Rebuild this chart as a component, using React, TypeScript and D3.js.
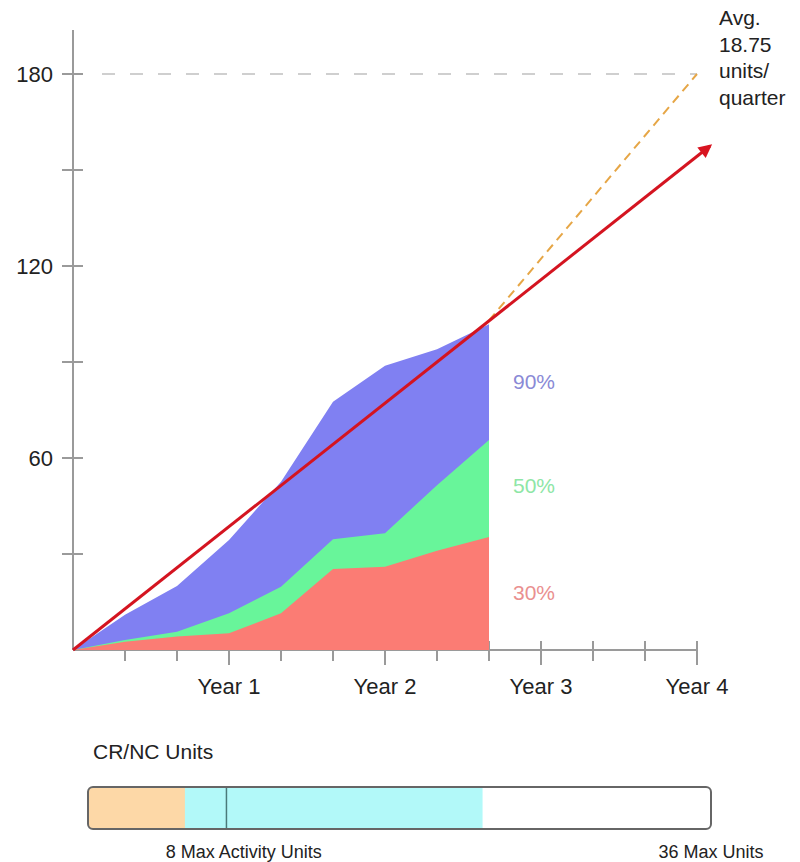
import React from "react";
import * as d3 from "d3";

// periods (x), three per year
const periods = [0, 1, 2, 3, 4, 5, 6, 7, 8];
const p90 = [0, 11, 20, 34.4, 52.6, 77.6, 88.8, 94, 101.8];
const p50 = [0, 3.1, 5.7, 11.5, 19.8, 34.6, 36.5, 51.5, 65.6];
const p30 = [0, 2.6, 4.2, 5.2, 11.5, 25.3, 26, 31, 35.3];
const trendLine = [
  [0, 0],
  [12.25, 157.5],
];
const avgLine = [
  [8, 103],
  [12, 180],
];
const target = 180;
const yTicks = [30, 60, 90, 120, 150, 180];
const yLabels = [60, 120, 180];
const xTicks = [1, 2, 3, 4, 5, 6, 7, 8, 9, 10, 11, 12];
const yearTicks = [3, 6, 9, 12];
const yearLabels = ["Year 1", "Year 2", "Year 3", "Year 4"];
const pctLabels = [
  { text: "90%", v: 84 },
  { text: "50%", v: 51.5 },
  { text: "30%", v: 18 },
];
const avgText = ["Avg.", "18.75", "units/", "quarter"];
// CR/NC unit bar
const unitMax = 36;
const orangeUnits = 5.6;
const cyanUnits = 22.8;
const activityMark = 8;

const FONT = "'Liberation Sans', Arial, Helvetica, sans-serif";

export default function App() {
  const x = d3.scaleLinear().domain([0, 12]).range([73, 697]);
  const y = d3.scaleLinear().domain([0, 180]).range([650, 74]);
  const xb = d3.scaleLinear().domain([0, unitMax]).range([88, 711]);

  const area = (vals: number[]) =>
    d3
      .area<number>()
      .x((_, i) => x(periods[i]))
      .y0(y(0))
      .y1((d) => y(d))(vals) as string;

  const line = d3
    .line<number[]>()
    .x((d) => x(d[0]))
    .y((d) => y(d[1]));

  const axisColor = "#9a9a9a";
  const barY = 787;
  const barH = 42;

  return (
    <svg
      width={800}
      height={862}
      style={{ position: "absolute", left: 0, top: 0, background: "#fff" }}
      fontFamily={FONT}
    >
      <defs>
        <marker
          id="arrow"
          viewBox="0 0 10 10"
          refX="8"
          refY="5"
          markerWidth="5"
          markerHeight="4.5"
          orient="auto"
          markerUnits="strokeWidth"
        >
          <path d="M0,0 L10,5 L0,10 Z" fill="#d81420" />
        </marker>
        <clipPath id="barClip">
          <rect x={xb(0)} y={barY} width={xb(unitMax) - xb(0)} height={barH} rx={5} />
        </clipPath>
      </defs>

      {/* y axis */}
      <line x1={x(0)} x2={x(0)} y1={30} y2={y(0)} stroke={axisColor} strokeWidth={2} />
      {yTicks.map((t) => (
        <line key={t} x1={x(0) - 11} x2={x(0) + 10} y1={y(t)} y2={y(t)} stroke={axisColor} strokeWidth={2} />
      ))}
      {yLabels.map((t) => (
        <text key={t} x={53} y={y(t)} dy="0.36em" textAnchor="end" fontSize={22} fill="#222">
          {t}
        </text>
      ))}

      {/* x axis */}
      <line x1={x(0)} x2={x(12)} y1={y(0)} y2={y(0)} stroke={axisColor} strokeWidth={2} />
      {xTicks.map((t) => {
        const major = yearTicks.includes(t);
        return (
          <line
            key={t}
            x1={x(t)}
            x2={x(t)}
            y1={y(0) - 9}
            y2={y(0) + (major ? 15 : 11)}
            stroke={axisColor}
            strokeWidth={2}
          />
        );
      })}
      {yearTicks.map((t, i) => (
        <text key={t} x={x(t)} y={694} textAnchor="middle" fontSize={22} fill="#222">
          {yearLabels[i]}
        </text>
      ))}

      {/* areas */}
      <path d={area(p90)} fill="#8080f2" />
      <path d={area(p50)} fill="#68f59a" />
      <path d={area(p30)} fill="#fb7c74" />

      {/* target line */}
      <line
        x1={x(0) + 29}
        x2={x(12)}
        y1={y(target)}
        y2={y(target)}
        stroke="#cfcfcf"
        strokeWidth={2}
        strokeDasharray="13,15"
      />

      {/* average projection */}
      <path d={line(avgLine) as string} fill="none" stroke="#e6a646" strokeWidth={2} strokeDasharray="9,6" />

      {/* trend line */}
      <path
        d={line(trendLine) as string}
        fill="none"
        stroke="#d41420"
        strokeWidth={3}
        markerEnd="url(#arrow)"
      />

      {/* percent labels */}
      {pctLabels.map((p, i) => (
        <text
          key={p.text}
          x={513}
          y={y(p.v)}
          dy="0.36em"
          fontSize={21}
          fill={["#8a8ad6", "#8ee6a6", "#ea9090"][i]}
        >
          {p.text}
        </text>
      ))}

      {/* avg label */}
      {avgText.map((t, i) => (
        <text key={t} x={719} y={25 + i * 26.5} fontSize={21} fill="#222">
          {t}
        </text>
      ))}

      {/* unit bar */}
      <text x={93} y={759} fontSize={21} fill="#222">
        CR/NC Units
      </text>
      <g clipPath="url(#barClip)">
        <rect x={xb(0)} y={barY} width={xb(unitMax) - xb(0)} height={barH} fill="#fff" />
        <rect x={xb(0)} y={barY} width={xb(cyanUnits) - xb(0)} height={barH} fill="#b2f9f9" />
        <rect x={xb(0)} y={barY} width={xb(orangeUnits) - xb(0)} height={barH} fill="#fdd8a7" />
      </g>
      <line
        x1={xb(activityMark)}
        x2={xb(activityMark)}
        y1={barY}
        y2={barY + barH}
        stroke="#4a7a7a"
        strokeWidth={1.5}
      />
      <rect
        x={xb(0)}
        y={barY}
        width={xb(unitMax) - xb(0)}
        height={barH}
        rx={5}
        fill="none"
        stroke="#666"
        strokeWidth={2}
      />
      <text x={xb(activityMark + 1)} y={858} textAnchor="middle" fontSize={18} fill="#222">
        8 Max Activity Units
      </text>
      <text x={xb(unitMax)} y={858} textAnchor="middle" fontSize={18} fill="#222">
        36 Max Units
      </text>
    </svg>
  );
}
